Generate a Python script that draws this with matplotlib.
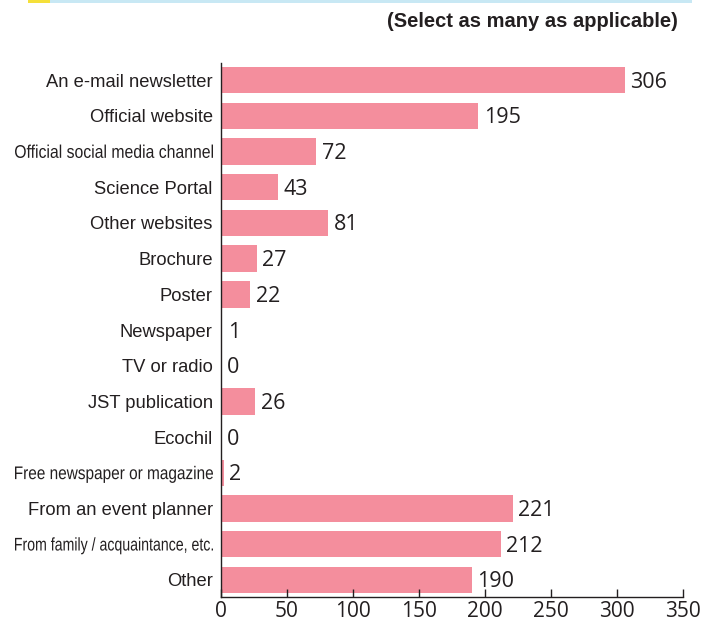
import matplotlib.pyplot as plt
from matplotlib.patches import Rectangle, PathPatch
from matplotlib.textpath import TextPath
from matplotlib.font_manager import FontProperties
from matplotlib.transforms import Affine2D, IdentityTransform

categories = [
    "An e-mail newsletter", "Official website", "Official social media channel",
    "Science Portal", "Other websites", "Brochure", "Poster", "Newspaper",
    "TV or radio", "JST publication", "Ecochil", "Free newspaper or magazine",
    "From an event planner", "From family / acquaintance, etc.", "Other",
]
counts = [306, 195, 72, 43, 81, 27, 22, 1, 0, 26, 0, 2, 221, 212, 190]
# long labels are set in a condensed face
narrow_labels = ["Official social media channel", "Free newspaper or magazine",
                 "From family / acquaintance, etc."]
xticks = [0, 50, 100, 150, 200, 250, 300, 350]

bar_color = "#F48E9D"
text_color = "#231f20"
DPI = 100

fig = plt.figure(figsize=(7.18, 6.23), dpi=DPI)
ax = fig.add_axes([0.3078, 0.0417, 0.6435, 0.8572])

pos = list(range(len(categories)))
ax.barh(pos, counts, height=0.74, color=bar_color)
ax.set_ylim(14.48, -0.48)
ax.set_xlim(0, 350)

for y, v in zip(pos, counts):
    ax.annotate(str(v), (v, y), xytext=(4, -1.5), textcoords="offset points",
                va="center", ha="left", fontsize=15.5,
                family="Open Sans", color=text_color)

ax.set_yticks(pos)
ax.set_yticklabels(["" if c in narrow_labels else c for c in categories],
                   family="Liberation Sans", fontsize=13.2, color=text_color)
ax.tick_params(axis="y", length=0, pad=6)

ax.set_xticks(xticks)
ax.set_xticklabels([str(t) for t in xticks], family="Open Sans", fontsize=15, color=text_color)
ax.tick_params(axis="x", direction="in", length=6, width=1, color=text_color, pad=3)

for s in ["top", "right"]:
    ax.spines[s].set_visible(False)
for s in ["left", "bottom"]:
    ax.spines[s].set_color(text_color)
    ax.spines[s].set_linewidth(1)

# condensed labels: glyph outlines squeezed horizontally, right-aligned at the axis
prop = FontProperties(family="Liberation Sans")
label_right = 213
label_width = 198
cap = TextPath((0, 0), "O", size=13.2, prop=prop).get_extents()
for c in narrow_labels:
    y = categories.index(c)
    tp = TextPath((0, 0), c, size=13.2, prop=prop)
    ext = tp.get_extents()
    sy = DPI / 72
    sx = label_width / ext.width
    _, py = ax.transData.transform((0, y))
    tr = (Affine2D().translate(-ext.x1, -(cap.y0 + cap.y1) / 2)
          .scale(sx, sy).translate(label_right, py))
    fig.add_artist(PathPatch(tp, transform=tr + IdentityTransform(),
                             color=text_color, lw=0))

fig.text(0.944, 0.965, "(Select as many as applicable)", ha="right", va="center",
         fontsize=14.5, fontweight="bold", family="Liberation Sans", color=text_color)

# thin header strip along the top edge
fig.add_artist(Rectangle((50 / 718, 1 - 3 / 623), 642 / 718, 3 / 623,
                         transform=fig.transFigure, color="#c8e8f4", lw=0))
fig.add_artist(Rectangle((28 / 718, 1 - 3 / 623), 22 / 718, 3 / 623,
                         transform=fig.transFigure, color="#f5e03a", lw=0))

fig.savefig("out.png", dpi=DPI)
